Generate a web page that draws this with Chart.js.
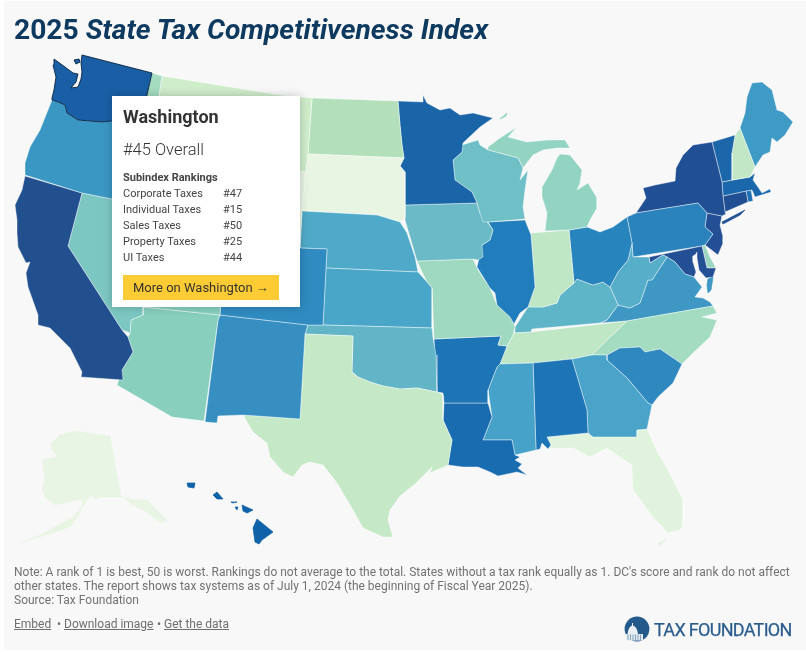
<!DOCTYPE html>
<html><head><meta charset="utf-8">
<script src="https://cdn.jsdelivr.net/npm/chart.js@4/dist/chart.umd.min.js"></script>
<style>
html,body{margin:0;padding:0;background:#fff;width:806px;height:653px;overflow:hidden;font-family:Roboto,sans-serif}
#card{position:absolute;left:4px;top:1px;width:802px;height:649px;background:#f8f8f9}
canvas{position:absolute;left:0;top:0}
.t{position:absolute;white-space:nowrap}
#title{left:14px;top:13px;font-size:28.2px;line-height:34px;font-weight:700;color:#0f3a60}
#title i{font-style:italic}
#tip{position:absolute;left:112px;top:96px;width:188px;height:211px;background:#fff;box-shadow:0 0 9px rgba(0,0,0,.22)}
.r{font-size:11px;line-height:16px;color:#444}
#note{left:14px;top:565px;font-size:12px;line-height:14px;color:#727272}
.lnk{top:617px;font-size:12px;line-height:15px;color:#6f6f6f}
.u{text-decoration:underline}
#logoT{left:654px;top:619px;font-size:18px;line-height:22px;letter-spacing:-.7px;color:#2b5d8d;font-weight:400;-webkit-text-stroke:.25px #2b5d8d}
#logo{position:absolute;left:624px;top:616px}
</style></head><body>
<div id="card"></div>
<canvas id="c" width="806" height="653"></canvas>
<div class="t" id="title">2025 <i>State Tax Competitiveness Index</i></div>
<div id="tip"></div>
<div class="t" style="left:123px;top:106px;font-size:18px;line-height:22px;font-weight:700;color:#333">Washington</div>
<div class="t" style="left:123px;top:140px;font-size:16.5px;line-height:20px;font-weight:300;color:#333">#45 Overall</div>
<div class="t r" style="left:123px;top:170px;font-weight:700">Subindex Rankings</div>
<div class="t r" style="left:123px;top:186px">Corporate Taxes</div><div class="t r" style="left:223px;top:186px">#47</div>
<div class="t r" style="left:123px;top:202px">Individual Taxes</div><div class="t r" style="left:223px;top:202px">#15</div>
<div class="t r" style="left:123px;top:218px">Sales Taxes</div><div class="t r" style="left:223px;top:218px">#50</div>
<div class="t r" style="left:123px;top:234px">Property Taxes</div><div class="t r" style="left:223px;top:234px">#25</div>
<div class="t r" style="left:123px;top:250px">UI Taxes</div><div class="t r" style="left:223px;top:250px">#44</div>
<div class="t" style="left:123px;top:275px;width:156px;height:25px;background:#fdcb33"></div>
<div class="t" style="left:133px;top:279px;font-size:13px;line-height:17px;color:#333">More on Washington →</div>
<div class="t" id="note">Note: A rank of 1 is best, 50 is worst. Rankings do not average to the total. States without a tax rank equally as 1. DC's score and rank do not affect<br>other states. The report shows tax systems as of July 1, 2024 (the beginning of Fiscal Year 2025).<br>Source: Tax Foundation</div>
<div class="t lnk u" style="left:14px">Embed</div>
<div class="t lnk" style="left:57px">•</div>
<div class="t lnk u" style="left:64px">Download image</div>
<div class="t lnk" style="left:157px">•</div>
<div class="t lnk u" style="left:164px">Get the data</div>
<svg id="logo" width="28" height="28" viewBox="0 0 28 28"><circle cx="13" cy="13" r="12.4" fill="#24598c"/><path d="M3.5 18Q4.5 10.5 8 9.5V7H9V9.5Q13 10.5 14 18Z" fill="#e9eff4"/><rect x="2" y="18" width="17" height="6.5" fill="#e3ebf1"/><path d="M4 18.5V24M6.5 18.5V24M9 18.5V24M11.5 18.5V24M14 18.5V24M16.5 18.5V24" stroke="#6d8fae" stroke-width=".8"/></svg>
<div class="t" id="logoT">TAX FOUNDATION</div>
<script>
// Map outlines, in the chart's own map-unit data space
const WA=[[82,55],[152,73],[147,95],[145,110],[112,121],[102,122],[78,120],[67,113],[65,105],[58,102],[52,100],[52,98],[54,90],[56,77],[53,65],[54,59],[65,67],[73,73],[78,74],[76,82],[71,88],[78,87],[81,79],[82,72],[81,63]];
const WAI=[[74,60],[79,59],[80,62],[76,64]];
const OR=[[52,100],[58,102],[65,105],[67,113],[78,120],[102,122],[112,121],[145,110],[135,150],[130,205],[112,199],[82,193],[25,175],[25,163],[30,147],[40,130],[48,110]];
const CA=[[25,176],[82,193],[68,246],[122,330],[128,337],[133,352],[122,370],[123,380],[81,377],[82,372],[70,348],[50,328],[38,325],[38,315],[28,287],[26,273],[30,262],[26,263],[18,247],[17,233],[17,220],[15,205],[22,190]];
const NV=[[82,193],[112,199],[150,210],[143,307],[143,315],[131,320],[130,333],[122,330],[68,246]];
const ID=[[152,73],[162,76],[159,95],[200,160],[190,215],[130,205],[135,150],[145,110],[147,95]];
const MT=[[162,76],[280,95],[312,98],[308,154],[306,172],[200,160],[159,95]];
const WY=[[200,160],[306,172],[302,211],[300,248],[225,240]];
const UT=[[150,210],[190,215],[225,240],[220,315],[143,307]];
const AZ=[[143,307],[220,315],[218,320],[204,421],[172,417],[117,385],[122,370],[133,352],[128,337],[130,333],[131,320],[143,315]];
const CO=[[225,240],[300,248],[327,249],[326,268],[323,325],[308,325],[220,315]];
const NM=[[220,315],[308,325],[305,334],[300,419],[243,415],[218,416],[217,423],[205,422],[218,320]];
const TX=[[305,334],[353,336],[352,372],[358,377],[370,382],[383,386],[400,389],[417,388],[437,392],[443,395],[443,420],[452,440],[448,465],[430,473],[432,467],[415,484],[400,496],[390,510],[388,520],[393,537],[383,537],[363,528],[353,510],[337,483],[323,465],[310,462],[302,465],[293,477],[283,472],[270,457],[267,443],[253,432],[243,415],[300,419]];
const OK=[[308,325],[323,325],[432,328],[433,338],[436,355],[437,392],[417,388],[400,389],[383,386],[370,382],[358,377],[352,372],[353,336],[305,334]];
const KS=[[326,268],[418,272],[427,282],[432,288],[432,328],[323,325]];
const NE=[[302,211],[377,215],[387,218],[400,222],[407,233],[415,257],[418,272],[326,268],[327,249],[300,248]];
const SD=[[308,154],[404,158],[400,166],[405,172],[405,218],[400,222],[387,218],[377,215],[302,211],[306,172]];
const ND=[[312,98],[398,101],[400,125],[402,145],[404,158],[308,154]];
const MN=[[398,101],[423,102],[423,95],[427,103],[440,110],[450,108],[460,115],[473,113],[493,118],[480,127],[463,143],[462,152],[453,160],[455,180],[472,192],[477,203],[405,205],[405,172],[400,166],[404,158],[402,145],[400,125]];
const WI=[[462,145],[478,140],[480,145],[488,150],[518,158],[523,168],[520,180],[528,170],[525,190],[523,207],[525,219],[488,222],[483,222],[480,213],[477,203],[472,192],[455,180],[453,160],[462,152]];
const MIU=[[488,147],[500,138],[517,127],[508,137],[527,142],[547,140],[565,140],[570,148],[557,148],[543,150],[533,155],[523,168],[518,158],[488,150]];
const MII=[[500,119],[507,113],[506,116]];
const MIL=[[560,154],[570,155],[582,170],[580,183],[577,190],[588,183],[597,198],[597,208],[590,220],[587,227],[569,230],[545,231],[547,213],[542,197],[542,187],[552,170],[557,158]];
const IA=[[405,205],[477,203],[480,213],[488,223],[493,230],[490,240],[482,245],[483,257],[478,260],[473,259],[417,261],[410,237],[405,220]];
const IL=[[488,222],[525,220],[531,235],[535,287],[528,307],[520,313],[514,324],[510,317],[497,305],[495,293],[490,288],[477,267],[482,245],[490,240],[493,230]];
const IN=[[531,233],[569,230],[574,283],[560,295],[557,303],[543,307],[528,307],[535,287]];
const OH=[[569,230],[587,227],[600,232],[613,227],[627,217],[632,243],[628,260],[618,272],[610,287],[603,282],[593,285],[577,279],[574,283]];
const MO=[[417,261],[473,259],[478,270],[490,288],[497,305],[510,317],[514,324],[515,327],[513,335],[507,346],[498,345],[501,336],[434,339],[432,288],[427,282],[422,272]];
const AR=[[434,339],[501,336],[498,345],[507,346],[500,364],[497,367],[488,390],[488,403],[444,403],[443,393],[437,392]];
const LA=[[444,403],[488,403],[492,417],[483,440],[512,440],[515,455],[520,457],[515,460],[522,464],[518,468],[527,475],[517,472],[498,476],[490,472],[478,467],[463,467],[448,465],[452,440],[443,420]];
const MS=[[500,364],[533,363],[536,450],[515,455],[512,440],[483,440],[492,417],[488,390],[497,367]];
const AL=[[533,363],[572,359],[587,410],[588,433],[547,437],[551,445],[548,449],[542,443],[540,449],[536,450]];
const GA=[[572,359],[592,355],[607,355],[607,360],[627,378],[648,403],[652,405],[647,429],[637,430],[637,437],[593,437],[588,433],[587,410]];
const SC=[[607,360],[607,355],[620,348],[640,347],[645,352],[660,349],[682,364],[673,383],[658,397],[652,405],[648,403],[627,378]];
const NC=[[627,321],[713,306],[717,313],[702,317],[717,320],[710,337],[693,353],[682,364],[660,349],[645,352],[640,347],[620,348],[607,355],[592,355],[607,340]];
const TN=[[513,333],[515,333],[531,332],[627,321],[607,340],[592,355],[572,359],[533,363],[500,364],[507,346],[513,335]];
const KY=[[515,327],[528,307],[543,307],[557,303],[560,295],[574,283],[577,279],[593,285],[603,282],[610,287],[618,305],[607,320],[600,323],[532,329],[531,332],[515,333]];
const WV=[[610,287],[618,272],[628,260],[632,243],[633,257],[649,257],[650,263],[663,255],[667,257],[652,280],[648,280],[640,303],[630,308],[618,305]];
const VA=[[600,323],[607,320],[618,305],[630,308],[640,303],[648,280],[652,280],[667,257],[675,262],[685,274],[694,277],[702,287],[695,297],[703,298],[710,302],[713,306],[627,321]];
const VAE=[[708,279],[713,277],[711,290],[708,293],[707,285]];
const MD=[[649,257],[702,246],[707,268],[716,268],[713,277],[706,278],[699,270],[697,258],[697,252],[696,254],[693,256],[693,262],[696,272],[694,277],[685,274],[675,262],[667,257],[663,255],[650,263]];
const DE=[[702,246],[705,245],[710,257],[716,268],[707,268]];
const PA=[[627,217],[636,213],[698,203],[707,213],[705,227],[713,234],[705,245],[702,246],[633,257],[632,243]];
const NY=[[636,213],[646,198],[643,188],[655,185],[675,181],[676,168],[683,155],[693,145],[712,142],[717,162],[722,182],[723,196],[725,212],[726,214],[722,216],[707,213],[698,203]];
const NYL=[[722,222],[745,210],[740,215],[723,224]];
const NJ=[[707,213],[722,216],[720,225],[723,237],[723,243],[718,255],[705,245],[713,234],[705,227]];
const VT=[[712,142],[735,135],[732,153],[732,180],[722,182],[717,162]];
const NH=[[735,135],[740,128],[755,167],[750,177],[732,180],[732,153]];
const ME=[[740,128],[745,113],[747,97],[752,83],[762,82],[772,90],[777,110],[783,112],[793,122],[785,135],[777,142],[772,138],[770,152],[763,155],[755,167]];
const MA=[[722,182],[750,177],[755,173],[753,180],[758,187],[762,193],[770,189],[771,192],[755,197],[752,190],[746,191],[723,196]];
const CT=[[723,196],[746,191],[748,202],[725,212]];
const RI=[[746,191],[751,190],[753,201],[748,202]];
const FL=[[547,437],[588,433],[593,437],[637,437],[637,430],[647,429],[658,453],[667,468],[683,500],[683,527],[678,531],[668,533],[653,517],[633,490],[632,465],[617,455],[607,448],[590,457],[573,448],[560,448],[550,449],[551,445]];
const FLK=[[658,544],[666,539],[660,545]];
const AK=[[60,435],[75,431],[110,436],[121,497],[135,500],[147,500],[167,520],[160,523],[147,512],[133,505],[123,497],[100,497],[96,500],[90,495],[84,505],[73,517],[40,535],[20,543],[40,537],[70,527],[80,513],[83,500],[78,500],[55,505],[45,497],[42,488],[45,480],[43,467],[43,460],[57,457],[50,445]];
const HI1=[[257,519],[273,532],[262,540],[259,544],[255,542],[253,528]];
const HI2=[[242,505],[253,510],[247,513],[243,511]];
const HI3=[[217,492],[223,499],[217,499],[213,495]];
const HI4=[[187,483],[195,483],[194,488],[188,487]];
const HI5=[[231,502],[237,502],[233,503]];
const HI6=[[235,507],[238,507],[237,510]];

// Shape of each region and its band colour
const shapes=[WA,WAI,OR,CA,NV,ID,MT,WY,UT,AZ,CO,NM,TX,OK,KS,NE,SD,ND,MN,WI,MIU,MII,MIL,IA,IL,IN,OH,MO,AR,LA,MS,AL,GA,SC,NC,TN,KY,WV,VA,VAE,MD,DE,PA,NY,NYL,NJ,VT,NH,ME,MA,CT,RI,FL,FLK,AK,HI1,HI2,HI3,HI4,HI5,HI6];
const colours=['#1a5fa5','#1a5fa5','#3a97c4','#22508f','#7cc7c2','#a4dcbf','#cfeccb','#e8f5e3','#86cfbf','#88cfbe','#2f8bc0','#378fc1','#c5e8c6','#61b5c7','#4aa6c8','#4fa9c8','#e8f5e3','#b3e0ba','#1a65a8','#6fbfc7','#92d3c2','#92d3c2','#92d3c2','#6abac7','#217dbb','#bfe6c5','#2784bd','#9fd9bf','#1d75b5','#1a6cb0','#46a2c8','#1d75b5','#4aa4c9','#2f88be','#a3dcc0','#bfe7c5','#5fb5c8','#57aec8','#3f98c4','#3f98c4','#234f95','#9bd6c0','#2a83bd','#214f94','#214f94','#234f95','#1c67aa','#c1e7c6','#3f9ac5','#1a67ab','#214f94','#2070b5','#e0f3dc','#e0f3dc','#e9f5e4','#0f62a8','#0f62a8','#0f62a8','#0f62a8','#0f62a8','#0f62a8'];
const borderless=new Set([AK,HI1,HI2,HI3,HI4,HI5,HI6,MII,NYL,VAE,FLK]);
const outlined=new Set([WA,WAI]);

new Chart(document.getElementById('c'),{
  type:'scatter',
  data:{datasets:shapes.map((s,i)=>({
    data:[...s,s[0]].map(p=>({x:p[0],y:p[1]})),
    showLine:true,fill:'shape',tension:0,pointRadius:0,
    backgroundColor:colours[i],
    borderColor:outlined.has(s)?'#0a2440':(borderless.has(s)?colours[i]:'rgba(255,255,255,.6)'),
    borderWidth:outlined.has(s)?0.9:0.7,borderJoinStyle:'round',order:outlined.has(s)?-1:0
  }))},
  options:{responsive:false,animation:false,
    layout:{padding:0},
    plugins:{legend:{display:false},tooltip:{enabled:false},title:{display:false}},
    scales:{x:{type:'linear',min:0,max:806,display:false},y:{type:'linear',min:0,max:653,reverse:true,display:false}}
  }
});
</script>
</body></html>
